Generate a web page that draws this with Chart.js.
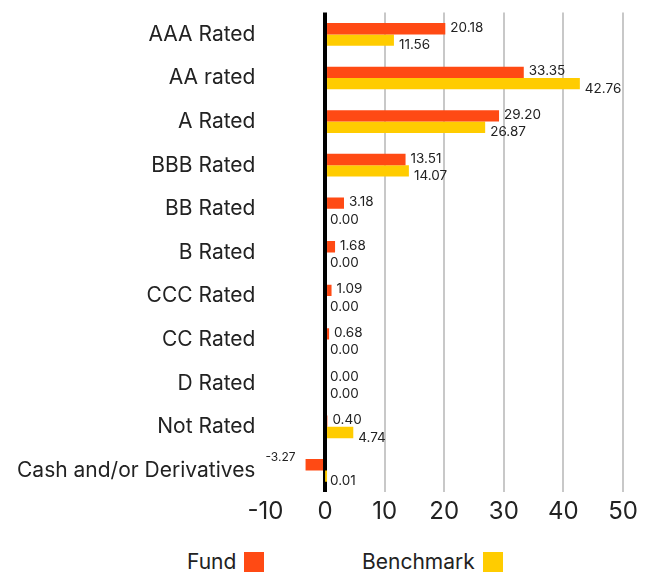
<!DOCTYPE html>
<html>
<head>
<meta charset="utf-8">
<script src="https://cdn.jsdelivr.net/npm/chart.js@4.4.1/dist/chart.umd.min.js"></script>
<style>
  body { margin: 0; background: #fff; font-family: Inter, "Liberation Sans", sans-serif; }
  #wrap { position: relative; width: 651px; height: 543px; margin-top: -10px; }
  #legend { position: absolute; top: 549px; left: 0; width: 651px; height: 26px; font-size: 21px; color: #222; }
  .item { position: absolute; top: 0; display: flex; align-items: center; }
  .box { display: inline-block; width: 20px; height: 20px; margin-left: 8px; }
</style>
</head>
<body>
<div id="wrap"><canvas id="chart"></canvas></div>
<div id="legend">
  <div class="item" style="left:187px">Fund<span class="box" style="background:#FF4A14"></span></div>
  <div class="item" style="left:362px">Benchmark<span class="box" style="background:#FFCC00"></span></div>
</div>
<script>
// Data
const categories = ['AAA Rated', 'AA rated', 'A Rated', 'BBB Rated', 'BB Rated', 'B Rated',
  'CCC Rated', 'CC Rated', 'D Rated', 'Not Rated', 'Cash and/or Derivatives'];
const fundData = [20.18, 33.35, 29.20, 13.51, 3.18, 1.68, 1.09, 0.68, 0.00, 0.40, -3.27];
const benchmarkData = [11.56, 42.76, 26.87, 14.07, 0.00, 0.00, 0.00, 0.00, 0.00, 4.74, 0.01];
const xTicks = [-10, 0, 10, 20, 30, 40, 50];

const fontFamily = 'Inter, "Liberation Sans", sans-serif';

// value labels next to each bar
const valueLabels = {
  id: 'valueLabels',
  afterDatasetsDraw(chart) {
    const ctx = chart.ctx;
    ctx.save();
    ctx.fillStyle = '#222';
    ctx.textBaseline = 'middle';
    chart.data.datasets.forEach((ds, di) => {
      const meta = chart.getDatasetMeta(di);
      meta.data.forEach((bar, i) => {
        const v = ds.data[i];
        const txt = v.toFixed(2);
        if (v < 0) {
          ctx.font = '12px ' + fontFamily;
          ctx.textAlign = 'right';
          ctx.fillText(txt, bar.x - 10, bar.y - 7);
        } else {
          ctx.font = '13.5px ' + fontFamily;
          ctx.textAlign = 'left';
          ctx.fillText(txt, Math.max(bar.x, chart.scales.x.getPixelForValue(0)) + 5, bar.y + (di === 1 ? 5 : -1));
        }
      });
    });
    ctx.restore();
  }
};

const ctx = document.getElementById('chart').getContext('2d');
new Chart(ctx, {
  type: 'bar',
  data: {
    labels: categories,
    datasets: [
      { label: 'Fund', data: fundData, backgroundColor: '#FF4A14', categoryPercentage: 0.52, barPercentage: 1 },
      { label: 'Benchmark', data: benchmarkData, backgroundColor: '#FFCC00', categoryPercentage: 0.52, barPercentage: 1 }
    ]
  },
  options: {
    indexAxis: 'y',
    responsive: true,
    maintainAspectRatio: false,
    animation: false,
    layout: { padding: { top: 0, right: 28, left: 7, bottom: 2 } },
    plugins: {
      legend: { display: false },
      tooltip: { enabled: false }
    },
    scales: {
      x: {
        min: xTicks[0],
        max: xTicks[xTicks.length - 1],
        afterBuildTicks(axis) { axis.ticks = xTicks.map(v => ({ value: v })); },
        border: { display: false },
        grid: {
          drawTicks: false,
          color: c => c.tick.value === 0 ? '#000' : (c.tick.value < 0 ? 'rgba(0,0,0,0)' : '#c8c8c8'),
          lineWidth: c => c.tick.value === 0 ? 4 : 2
        },
        ticks: { color: '#222', padding: 5, font: { size: 24, family: fontFamily } }
      },
      y: {
        border: { display: false },
        grid: { display: false, drawTicks: false },
        ticks: { color: '#222', padding: 10, font: { size: 21, family: fontFamily } }
      }
    }
  },
  plugins: [valueLabels]
});
</script>
</body>
</html>
